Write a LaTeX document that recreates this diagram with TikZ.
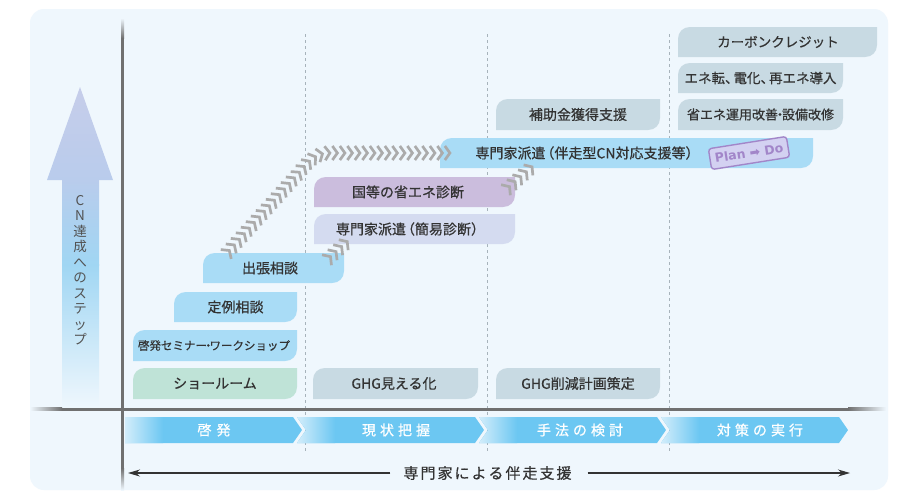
\documentclass[tikz,border=0pt]{standalone}
\usepackage{fontspec}
\setmainfont{Noto Sans CJK JP}
\newfontfamily\jpm{Noto Sans CJK JP}[FakeBold=0.6]
\newfontfamily\dejavub{DejaVu Sans Bold}
\usetikzlibrary{arrows.meta,decorations.markings,shadings}
\definecolor{bg}{HTML}{EFF7FD}
\definecolor{textc}{HTML}{333333}
\definecolor{bluebox}{HTML}{A9DCF6}
\definecolor{mint}{HTML}{BFE3D7}
\definecolor{graybox}{HTML}{C8DAE3}
\definecolor{purplebox}{HTML}{CBBDDD}
\definecolor{lavbox}{HTML}{D4DBF0}
\definecolor{phaseblue}{HTML}{6CC7F2}
\definecolor{phaselight}{HTML}{D5EEFB}
\definecolor{axisc}{HTML}{707070}
\definecolor{dashc}{HTML}{A7B3BB}
\definecolor{chevc}{HTML}{ABABAB}
\definecolor{arrowtop}{HTML}{C6CDEA}
\definecolor{arrowbase}{HTML}{B9CCEC}
\definecolor{arrowmid}{HTML}{A0D6F3}
\definecolor{stampc}{HTML}{A286C9}
\definecolor{stampfill}{HTML}{D3D1F1}
\newcommand\jbox[8]{%
  \fill[#6] (#2,#5) -- (#2,#3+12) .. controls (#2,#3+5) and (#2+5,#3) .. (#2+12,#3)
    -- (#4,#3) -- (#4,#5-12) .. controls (#4,#5-5) and (#4-5,#5) .. (#4-12,#5) -- cycle;
  \node[boxtext] (#1) at (#7,{(#3+#5)/2}) {#8};}
\newcommand\phaseseg[6]{%
  \begin{scope}
  \clip (#2,417) -- (#3,417) -- (#3+9,430) -- (#3,443) -- (#2,443) -- (#2+#4,430) -- cycle;
  \fill[phaseblue] (#2-1,416) rectangle (#3+10,444);
  \shade[left color=phaselight, right color=phaseblue] (#2-1,416) rectangle (#2+38,444);
  \end{scope}
  \node[phasetext] (#1) at (#5,430) {#6};}
\newcommand\nd{\kern-4.5pt・\kern-4.5pt}
\newcommand\tc{、\kern-5pt}
\begin{document}
\begin{tikzpicture}[x=1pt,y=-1pt,
  boxtext/.style={text=textc, inner sep=0pt, font=\jpm\fontsize{14}{16}\selectfont},
  phasetext/.style={text=white, inner sep=0pt, font=\jpm\fontsize{14}{16}\selectfont},
  chev/.style={decorate, decoration={markings,
     mark=between positions 0 and 1 step 7.5pt with {\draw[chevc, line width=2.7pt] (-3pt,7pt) -- (2pt,0pt) -- (-3pt,-7pt);}}},
  dashline/.style={dashc, line width=0.9pt, dash pattern=on 3pt off 3pt},
  axisline/.style={axisc, line width=3pt},
  arr/.style={draw=textc, line width=1.1pt, -{Stealth[length=12pt,width=7pt]}}]
\useasboundingbox (0,0) rectangle (904,493);
\fill[white] (0,0) rectangle (904,493);
\fill[bg, rounded corners=14pt] (30,9) rectangle (888,490);

% big step arrow
\shade[top color=arrowtop, bottom color=arrowbase] (80,87) -- (113,180) -- (47,180) -- cycle;
\shade[top color=arrowbase, bottom color=arrowmid] (62,179.5) rectangle (99,265);
\shade[top color=arrowmid, bottom color=bg] (62,264.5) rectangle (99,408);
\node[text=textc!85, align=center, inner sep=0pt, font=\fontsize{13.5}{15.5}\selectfont] (vt) at (80,270)
  {C\\N\\達\\成\\へ\\の\\ス\\テ\\ッ\\プ};

% dashed column lines
\draw[dashline] (305.5,34) -- (305.5,451);
\draw[dashline] (487.5,34) -- (487.5,451);
\draw[dashline] (669,34) -- (669,451);

% axes
\draw[axisline] (122.5,38) -- (122.5,468);
\shade[top color=bg, bottom color=axisc] (121,18) rectangle (124,38);
\shade[top color=axisc, bottom color=bg] (121,468) rectangle (124,490);
\draw[axisline] (62,409) -- (848,409);
\shade[left color=bg, right color=axisc] (30,407.5) rectangle (62,410.5);
\shade[left color=axisc, right color=bg] (848,407.5) rectangle (886,410.5);

% phase arrows
\phaseseg{p1}{125}{293}{0}{214}{啓\hspace{5pt}発}
\phaseseg{p2}{297}{475}{9}{396}{現\hspace{4pt}状\hspace{4pt}把\hspace{4pt}握}
\phaseseg{p3}{479}{657}{9}{580}{手\hspace{4pt}法\hspace{4pt}の\hspace{4pt}検\hspace{4pt}討}
\phaseseg{p4}{661}{839}{9}{760}{対\hspace{4pt}策\hspace{4pt}の\hspace{4pt}実\hspace{4pt}行}

% bottom caption arrow
\node[text=textc, inner sep=0pt, font=\jpm\fontsize{15}{17}\selectfont] (bt) at (487.5,473)
  {専\kern2pt 門\kern2pt 家\kern2pt に\kern2pt よ\kern2pt る\kern2pt 伴\kern2pt 走\kern2pt 支\kern2pt 援};
\coordinate (la) at (128,473);
\coordinate (ra) at (850,473);
\draw[arr] ([xshift=-13pt]bt.west) -- (la);
\draw[arr] ([xshift=16pt]bt.east) -- (ra);

% boxes
\jbox{show}{133}{368}{297}{399}{mint}{215}{ショールーム}
\jbox{semi}{133}{330}{297}{361}{bluebox}{214}{\fontsize{11.5}{13}\selectfont 啓発セミナー\nd ワークショップ}
\jbox{teirei}{174}{292}{297}{322}{bluebox}{235.5}{定例相談}
\jbox{shutcho}{203}{253}{344}{283}{bluebox}{270}{出張相談}
\jbox{ghgm}{313}{368}{478}{399}{graybox}{394}{GHG見える化}
\jbox{ghgs}{496}{368}{660}{399}{graybox}{578}{GHG削減計画策定}
\jbox{kani}{314}{214}{515}{244}{lavbox}{408}{専門家派遣\kern-5pt（簡易診断）\kern-5pt}
\jbox{kokuto}{314}{177}{515}{207}{purplebox}{408}{国等の省エネ診断}
\jbox{bansou}{440}{138}{813}{168}{bluebox}{585}{専門家派遣\kern-5pt（伴走型CN対応支援等）\kern-5pt}
\jbox{hojo}{496}{99}{660}{130}{graybox}{578}{補助金獲得支援}
\jbox{shoene}{678}{99}{843}{130}{graybox}{760.5}{\fontsize{13}{15}\selectfont 省エネ運用改善\nd 設備改修}
\jbox{eneten}{678}{63}{843}{93}{graybox}{760.5}{\fontsize{13.5}{15}\selectfont エネ転\tc 電化\tc 再エネ導入}
\jbox{carbon}{678}{27}{877}{57}{graybox}{778}{\fontsize{13.5}{15}\selectfont カーボンクレジット}

% stamp
\node[draw=stampc, line width=1.4pt, fill=stampfill, rounded corners=3pt, text=stampc,
  inner xsep=5pt, inner ysep=3pt, minimum height=21pt, rotate=9,
  font=\dejavub\fontsize{12.5}{14}\selectfont] (pd) at (749,153) {Plan ➡ Do};

% chevron connectors
\coordinate (c1a) at (228,252);
\coordinate (c1b) at (297,175);
\coordinate (c1c) at (330,153);
\coordinate (c1d) at (448,153);
\path[chev] (c1a) -- (c1b) .. controls (307,163) and (315,153) .. (c1c) -- (c1d);
\coordinate (c2a) at (329,258);
\coordinate (c2b) at (349,240);
\path[chev] (c2a) -- (c2b);
\coordinate (c3a) at (508,188);
\coordinate (c3b) at (533,166);
\path[chev] (c3a) -- (c3b);
\end{tikzpicture}
\end{document}
